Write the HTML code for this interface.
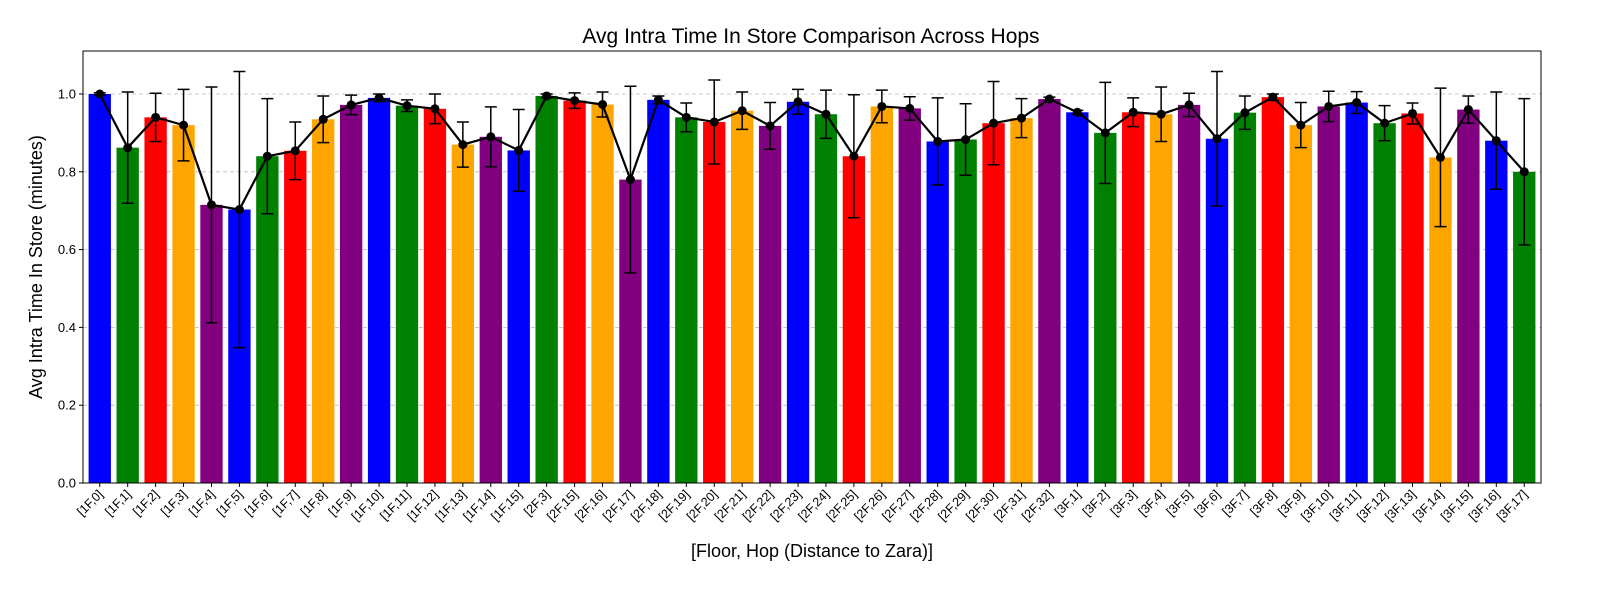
<!DOCTYPE html>
<html><head><meta charset="utf-8"><style>
body{margin:0;background:#fff;}
svg{display:block;font-family:"Liberation Sans","DejaVu Sans",sans-serif;}
</style></head><body>
<svg id="chart" width="1600" height="600" viewBox="0 0 1600 600">
<rect width="1600" height="600" fill="#fff"/>
<text x="811" y="43" text-anchor="middle" font-size="21">Avg Intra Time In Store Comparison Across Hops</text>
<text transform="translate(42,267) rotate(-90)" text-anchor="middle" font-size="18">Avg Intra Time In Store (minutes)</text>
<text x="812" y="557" text-anchor="middle" font-size="18">[Floor, Hop (Distance to Zara)]</text>
<g id="grid"></g><g id="bars"></g><g id="errs"></g><g id="line"></g><g id="axes"></g>
</svg>
<script>
const categories=["1F,0","1F,1","1F,2","1F,3","1F,4","1F,5","1F,6","1F,7","1F,8","1F,9","1F,10","1F,11","1F,12","1F,13","1F,14","1F,15","2F,3","2F,15","2F,16","2F,17","2F,18","2F,19","2F,20","2F,21","2F,22","2F,23","2F,24","2F,25","2F,26","2F,27","2F,28","2F,29","2F,30","2F,31","2F,32","3F,1","3F,2","3F,3","3F,4","3F,5","3F,6","3F,7","3F,8","3F,9","3F,10","3F,11","3F,12","3F,13","3F,14","3F,15","3F,16","3F,17"];
const means=[1.0,0.862,0.94,0.92,0.715,0.703,0.84,0.854,0.935,0.972,0.99,0.97,0.962,0.87,0.89,0.855,0.995,0.983,0.973,0.78,0.985,0.94,0.928,0.957,0.918,0.98,0.948,0.84,0.968,0.963,0.878,0.883,0.925,0.938,0.987,0.953,0.9,0.953,0.948,0.972,0.885,0.952,0.992,0.92,0.968,0.978,0.925,0.95,0.837,0.96,0.88,0.8];
const errors=[0.003,0.143,0.062,0.092,0.303,0.355,0.148,0.074,0.06,0.025,0.01,0.015,0.038,0.058,0.077,0.105,0.005,0.02,0.032,0.24,0.01,0.037,0.108,0.048,0.06,0.032,0.062,0.158,0.042,0.03,0.112,0.092,0.107,0.05,0.005,0.005,0.13,0.037,0.07,0.03,0.173,0.043,0.008,0.058,0.039,0.028,0.045,0.027,0.178,0.035,0.125,0.188];
const yTicks=[0,0.2,0.4,0.6,0.8,1.0];
const palette=["blue","green","red","orange","purple"];
const NS="http://www.w3.org/2000/svg";
const L=83,R=1541,T=51,B=483,yMax=(B-T)/389;
const n=categories.length, step=(R-L)/(n+0.2);
const x=i=>L+step*(0.6+i);
const y=v=>B-(v/yMax)*(B-T);
function mk(p,tag,attrs){const e=document.createElementNS(NS,tag);for(const k in attrs)e.setAttribute(k,attrs[k]);document.getElementById(p).appendChild(e);return e;}
yTicks.forEach(t=>{
 const g=mk('grid','line',{x1:L,x2:R,y1:y(t),y2:y(t),stroke:'#bbb','stroke-dasharray':'4,3','stroke-width':0.8});
 
 
 const tk=mk('axes','line',{x1:L-4,x2:L,y1:y(t),y2:y(t),stroke:'#000'});
 
 
 const tl=mk('axes','text',{x:L-7,y:y(t)+4.5,'text-anchor':'end','font-size':13});
 tl.textContent=t.toFixed(1);
 
 
});
const bw=step*0.8;let pts=[];
categories.forEach((c,i)=>{
 const cx=x(i),v=means[i],e=errors[i];
 const b=mk('bars','rect',{x:cx-bw/2,y:y(v),width:bw,height:B-y(v),fill:palette[i%5]});
 
 
 const el=mk('errs','path',{d:`M${cx},${y(v+e)}V${y(v-e)}M${cx-6},${y(v+e)}H${cx+6}M${cx-6},${y(v-e)}H${cx+6}`,stroke:'#000','stroke-width':1.5,fill:'none'});
 
 
 pts.push(cx+','+y(v));
 const d=mk('line','circle',{cx:cx,cy:y(v),r:4.5,fill:'#000'});
 
 
 const tk=mk('axes','line',{x1:cx,x2:cx,y1:B,y2:B+4,stroke:'#000'});
 
 
 const tl=mk('axes','text',{transform:`translate(${cx+4},${B+12}) rotate(-45)`,'text-anchor':'end','font-size':12.5});
 tl.textContent='['+c+']';
 
 
});
const pl=mk('line','polyline',{points:pts.join(' '),fill:'none',stroke:'#000','stroke-width':2.2});


document.getElementById('line').insertBefore(pl,document.getElementById('line').firstChild);
const fr=mk('axes','rect',{x:L,y:T,width:R-L,height:B-T,fill:'none',stroke:'#000','stroke-width':1});


</script>
</body></html>
